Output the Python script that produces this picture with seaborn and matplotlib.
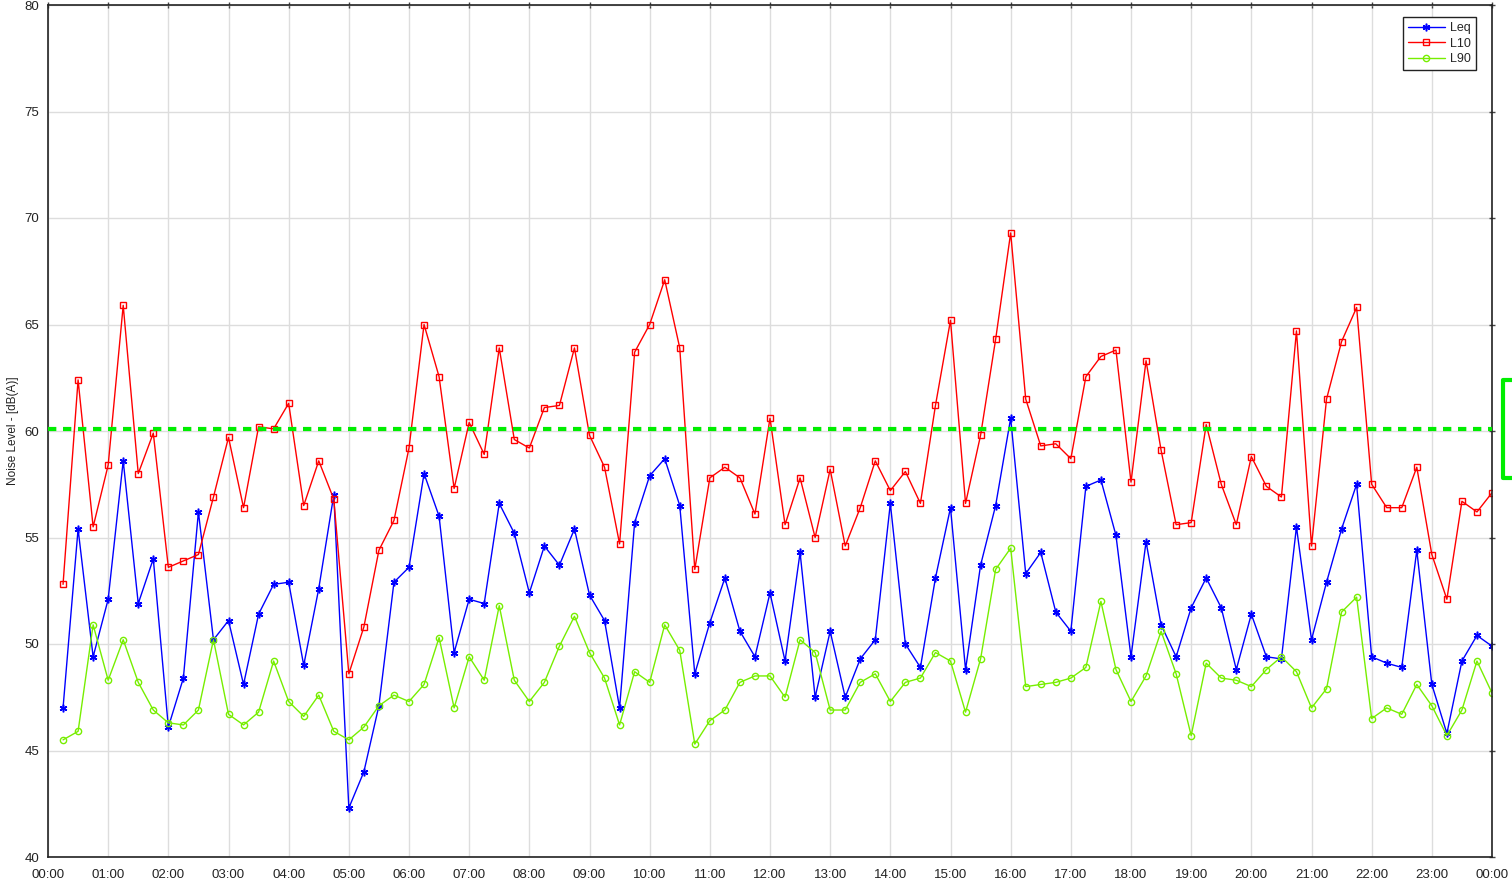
import pandas as pd
import matplotlib
matplotlib.use("Agg")
import matplotlib.pyplot as plt
import matplotlib.dates as mdates
from matplotlib.lines import Line2D
import seaborn as sns

# Values, one every 15 minutes from 00:15 to 24:00
leq = [47.0, 55.4, 49.4, 52.1, 58.6, 51.9, 54.0, 46.1, 48.4, 56.2, 50.2, 51.1, 48.1, 51.4, 52.8, 52.9,
       49.0, 52.6, 57.0, 42.3, 44.0, 47.1, 52.9, 53.6, 58.0, 56.0, 49.6, 52.1, 51.9, 56.6, 55.2, 52.4,
       54.6, 53.7, 55.4, 52.3, 51.1, 47.0, 55.7, 57.9, 58.7, 56.5, 48.6, 51.0, 53.1, 50.6, 49.4, 52.4,
       49.2, 54.3, 47.5, 50.6, 47.5, 49.3, 50.2, 56.6, 50.0, 48.9, 53.1, 56.4, 48.8, 53.7, 56.5, 60.6,
       53.3, 54.3, 51.5, 50.6, 57.4, 57.7, 55.1, 49.4, 54.8, 50.9, 49.4, 51.7, 53.1, 51.7, 48.8, 51.4,
       49.4, 49.3, 55.5, 50.2, 52.9, 55.4, 57.5, 49.4, 49.1, 48.9, 54.4, 48.1, 45.8, 49.2, 50.4, 49.9]
l10 = [52.8, 62.4, 55.5, 58.4, 65.9, 58.0, 59.9, 53.6, 53.9, 54.2, 56.9, 59.7, 56.4, 60.2, 60.1, 61.3,
       56.5, 58.6, 56.8, 48.6, 50.8, 54.4, 55.8, 59.2, 65.0, 62.55, 57.3, 60.4, 58.9, 63.9, 59.6, 59.2,
       61.1, 61.2, 63.9, 59.8, 58.3, 54.7, 63.7, 65.0, 67.1, 63.9, 53.5, 57.8, 58.3, 57.8, 56.1, 60.6,
       55.6, 57.8, 55.0, 58.2, 54.6, 56.4, 58.6, 57.2, 58.1, 56.6, 61.2, 65.2, 56.6, 59.8, 64.3, 69.3,
       61.5, 59.3, 59.4, 58.7, 62.55, 63.5, 63.8, 57.6, 63.3, 59.1, 55.6, 55.7, 60.3, 57.5, 55.6, 58.8,
       57.4, 56.9, 64.7, 54.6, 61.5, 64.2, 65.8, 57.5, 56.4, 56.4, 58.3, 54.2, 52.1, 56.7, 56.2, 57.1]
l90 = [45.5, 45.9, 50.9, 48.3, 50.2, 48.2, 46.9, 46.3, 46.2, 46.9, 50.2, 46.7, 46.2, 46.8, 49.2, 47.3,
       46.6, 47.6, 45.9, 45.5, 46.1, 47.1, 47.6, 47.3, 48.1, 50.3, 47.0, 49.4, 48.3, 51.8, 48.3, 47.3,
       48.2, 49.9, 51.3, 49.6, 48.4, 46.2, 48.7, 48.2, 50.9, 49.7, 45.3, 46.4, 46.9, 48.2, 48.5, 48.5,
       47.5, 50.2, 49.6, 46.9, 46.9, 48.2, 48.6, 47.3, 48.2, 48.4, 49.6, 49.2, 46.8, 49.3, 53.5, 54.5,
       48.0, 48.1, 48.2, 48.4, 48.9, 52.0, 48.8, 47.3, 48.5, 50.6, 48.6, 45.7, 49.1, 48.4, 48.3, 48.0,
       48.8, 49.4, 48.7, 47.0, 47.9, 51.5, 52.2, 46.5, 47.0, 46.7, 48.1, 47.1, 45.7, 46.9, 49.2, 47.7]
limit_level = 60.1

times = pd.date_range("2024-01-01 00:15", periods=len(leq), freq="15min")
df = pd.DataFrame({"time": times, "Leq": leq, "L10": l10, "L90": l90})

sns.set_style("whitegrid")
plt.rcParams["font.family"] = ["Liberation Sans", "DejaVu Sans"]

fig = plt.figure(figsize=(15.12, 8.86), dpi=100)
ax = fig.add_axes([48 / 1512, 29 / 886, 1444 / 1512, 852 / 886])

sns.lineplot(data=df, x="time", y="Leq", ax=ax, color="#0000ff", linewidth=1.0,
             marker=(6, 2, 0), markersize=5.5, markeredgecolor="#0000ff", markeredgewidth=1.1, label="Leq")
sns.lineplot(data=df, x="time", y="L10", ax=ax, color="#ff0000", linewidth=1.0,
             marker="s", markersize=4, markerfacecolor="none", markeredgecolor="#ff0000",
             markeredgewidth=1.0, label="L10")
sns.lineplot(data=df, x="time", y="L90", ax=ax, color="#77ee00", linewidth=1.0,
             marker="o", markersize=4.5, markerfacecolor="none", markeredgecolor="#77ee00",
             markeredgewidth=1.0, label="L90")
ax.axhline(limit_level, color="#00ee00", linewidth=3, linestyle=(0, (2, 1.6)), zorder=3)

start = pd.Timestamp("2024-01-01 00:00")
ax.set_xlim(start, start + pd.Timedelta(hours=24))
ax.set_ylim(40, 80)
ax.set_yticks(range(40, 81, 5))
ax.xaxis.set_major_locator(mdates.HourLocator(interval=1))
ax.xaxis.set_major_formatter(mdates.DateFormatter("%H:%M"))
ax.set_xlabel("")
ax.set_ylabel("Noise Level - [dB(A)]", fontsize=8.5, color="#222222", labelpad=4)

ax.grid(True, color="#dddddd", linewidth=1)
for s in ax.spines.values():
    s.set_color("#222222")
    s.set_linewidth(1.2)
ax.tick_params(axis="both", labelsize=9.5, labelcolor="#222222", color="#444444",
               direction="inout", length=5, width=1, top=True, right=True, pad=4)
ax.tick_params(axis="x", pad=6)

handles = [
    Line2D([], [], color="#0000ff", linewidth=1.0, marker=(6, 2, 0), markersize=5.5, markeredgewidth=1.1),
    Line2D([], [], color="#ff0000", linewidth=1.0, marker="s", markersize=4, markerfacecolor="none"),
    Line2D([], [], color="#77ee00", linewidth=1.0, marker="o", markersize=4.5, markerfacecolor="none"),
]
leg = ax.legend(handles, ["Leq", "L10", "L90"], loc="upper right", bbox_to_anchor=(0.989, 0.986),
                borderaxespad=0, fontsize=9, frameon=True, fancybox=False, framealpha=1,
                handlelength=3.0, borderpad=0.4, labelspacing=0.3, handletextpad=0.4)
leg.get_frame().set_edgecolor("#222222")
leg.get_frame().set_linewidth(1.0)

# green bracket just beyond the right edge
fig.add_artist(Line2D([1512 / 1512, 1503 / 1512, 1503 / 1512, 1512 / 1512],
                      [1 - 380 / 886, 1 - 380 / 886, 1 - 478 / 886, 1 - 478 / 886],
                      transform=fig.transFigure, color="#00ee00", linewidth=3))

fig.savefig("out.png", dpi=100)
